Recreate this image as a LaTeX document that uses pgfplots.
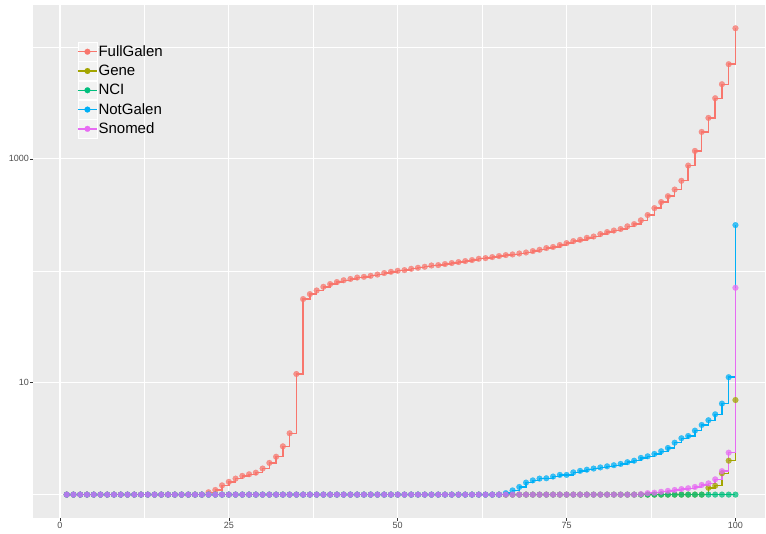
\documentclass[border=0pt]{standalone}
\usepackage{pgfplots}
\pgfplotsset{compat=1.18}
\usepackage{pgfplotstable}
\usepackage{fontspec}
\setmainfont{Liberation Sans}
\definecolor{cFG}{HTML}{F8766D}
\definecolor{cGene}{HTML}{A3A500}
\definecolor{cNCI}{HTML}{00BF7D}
\definecolor{cNG}{HTML}{00B0F6}
\definecolor{cSN}{HTML}{E76BF3}
\definecolor{panel}{HTML}{EBEBEB}
\definecolor{tickgrey}{HTML}{4D4D4D}
\definecolor{tickmark}{HTML}{333333}

\pgfplotstableread{
y
1
1
1
1
1
1
1
1
1
1
1
1
1
1
1
1
1
1
1
1
1
1.05
1.10
1.21
1.30
1.39
1.47
1.52
1.57
1.71
1.92
2.18
2.70
3.53
11.96
55.9
61.9
66.7
71.9
76.1
79.3
82.3
84.5
87.0
88.3
90.2
92.5
95.4
97.9
100
101.4
104.2
106.4
108.6
111.5
112.4
114.8
117.2
119.6
122.1
124.6
128.0
129.8
132.5
135.3
138.1
139.9
142.7
145.7
149.9
154.1
159.6
163.2
169.8
176.7
184.1
189.1
197.1
202.4
212.8
221.7
229.0
236.2
249.6
261.2
282.4
315
363
411
464
532
637
871
1178
1741
2323
3484
4645
7016
14690
}\tFG

\pgfplotstableread{
y
1
1
1
1
1
1
1
1
1
1
1
1
1
1
1
1
1
1
1
1
1
1
1
1
1
1
1
1
1
1
1
1
1
1
1
1
1
1
1
1
1
1
1
1
1
1
1
1
1
1
1
1
1
1
1
1
1
1
1
1
1
1
1
1
1
1
1
1
1
1
1
1
1
1
1
1
1
1
1
1
1
1
1
1
1
1
1
1
1
1
1
1
1
1
1
1.15
1.20
1.55
2.01
7.0
}\tGene

\pgfplotstableread{
y
1
1
1
1
1
1
1
1
1
1
1
1
1
1
1
1
1
1
1
1
1
1
1
1
1
1
1
1
1
1
1
1
1
1
1
1
1
1
1
1
1
1
1
1
1
1
1
1
1
1
1
1
1
1
1
1
1
1
1
1
1
1
1
1
1
1
1
1
1
1
1
1
1
1
1
1
1
1
1
1
1
1
1
1
1
1
1
1
1
1
1
1
1
1
1
1
1
1
1
1
}\tNCI

\pgfplotstableread{
y
1
1
1
1
1
1
1
1
1
1
1
1
1
1
1
1
1
1
1
1
1
1
1
1
1
1
1
1
1
1
1
1
1
1
1
1
1
1
1
1
1
1
1
1
1
1
1
1
1
1
1
1
1
1
1
1
1
1
1
1
1
1
1
1
1
1.03
1.09
1.17
1.28
1.34
1.39
1.40
1.45
1.50
1.50
1.58
1.63
1.67
1.71
1.75
1.79
1.83
1.88
1.95
2.01
2.13
2.20
2.31
2.44
2.61
2.91
3.19
3.34
3.73
4.19
4.62
5.22
6.50
11.2
256
}\tNG

\pgfplotstableread{
y
1
1
1
1
1
1
1
1
1
1
1
1
1
1
1
1
1
1
1
1
1
1
1
1
1
1
1
1
1
1
1
1
1
1
1
1
1
1
1
1
1
1
1
1
1
1
1
1
1
1
1
1
1
1
1
1
1
1
1
1
1
1
1
1
1
1
1
1
1
1
1
1
1
1
1
1
1
1
1
1
1
1
1
1
1
1.01
1.03
1.04
1.06
1.08
1.10
1.12
1.14
1.17
1.22
1.26
1.37
1.62
2.37
70.5
}\tSN

\pgfplotsset{
  lin/.style={color=#1, draw=#1, const plot, no markers, line width=1.4pt},
  pts/.style={color=#1, only marks, mark=*, mark size=2.9pt, mark options={solid, draw=#1, fill=#1, line width=0.2pt}, opacity=0.75},
  leg/.style={color=#1, draw=#1, line width=1.4pt, mark=*, mark size=2.9pt, mark options={solid, draw=#1, fill=#1, line width=0.2pt}},
}

\begin{document}
\begin{tikzpicture}
\begin{axis}[
  scale only axis,
  width=732.7pt, height=513.3pt,
  ymode=log,
  xmin=-3.95, xmax=104.44,
  ymin=0.619, ymax=23714,
  cycle list={{solid}},
  axis background/.style={fill=panel},
  axis line style={draw=none},
  xtick={0,25,50,75,100},
  xticklabels={0,25,50,75,100},
  minor xtick={12.5,37.5,62.5,87.5},
  ytick={10,1000},
  yticklabels={10,1000},
  minor ytick={1,100,10000},
  grid=both,
  major grid style={white, line width=1.1pt},
  minor grid style={white, line width=0.55pt},
  tick pos=left,
  tick align=outside,
  major tick length=2.8pt,
  minor tick length=0pt,
  tick style={color=tickmark, line width=0.5pt},
  ticklabel style={font=\fontsize{9}{10}\selectfont, text=tickgrey},
  xticklabel style={inner sep=1.5pt},
  yticklabel style={inner sep=1.5pt},
  legend cell align=left,
  legend style={at={(rel axis cs:0.0555,0.932)}, anchor=north west,
    draw=none, fill=none, font=\fontsize{15}{17}\selectfont,
    row sep=0pt, column sep=0pt,
    nodes={inner sep=0pt, inner xsep=0.8pt}},
  legend image code/.code={
    \fill[black!5, draw=white, line width=0.5pt] (0pt,-9.4pt) rectangle (19.3pt,9.4pt);
    \draw[mark repeat=2, mark phase=2, #1] plot coordinates {(0pt,0pt) (9.65pt,0pt) (19.3pt,0pt)};
  },
]
\addplot[lin=cFG, forget plot] table[x expr=\coordindex+1, y=y] {\tFG};
\addplot[lin=cGene, forget plot] table[x expr=\coordindex+1, y=y] {\tGene};
\addplot[lin=cNCI, forget plot] table[x expr=\coordindex+1, y=y] {\tNCI};
\addplot[lin=cNG, forget plot] table[x expr=\coordindex+1, y=y] {\tNG};
\addplot[lin=cSN, forget plot] table[x expr=\coordindex+1, y=y] {\tSN};
\addplot[pts=cFG, forget plot] table[x expr=\coordindex+1, y=y] {\tFG};
\addplot[pts=cGene, forget plot] table[x expr=\coordindex+1, y=y] {\tGene};
\addplot[pts=cNCI, forget plot] table[x expr=\coordindex+1, y=y] {\tNCI};
\addplot[pts=cNG, forget plot] table[x expr=\coordindex+1, y=y] {\tNG};
\addplot[pts=cSN, forget plot] table[x expr=\coordindex+1, y=y] {\tSN};
\addlegendimage{leg=cFG}\addlegendentry{FullGalen}
\addlegendimage{leg=cGene}\addlegendentry{Gene}
\addlegendimage{leg=cNCI}\addlegendentry{NCI}
\addlegendimage{leg=cNG}\addlegendentry{NotGalen}
\addlegendimage{leg=cSN}\addlegendentry{Snomed}
\end{axis}
\path (current axis.south west) ++(-33.3pt,-15.7pt) coordinate (bbA);
\path (current axis.north east) ++(0pt,5pt) coordinate (bbB);
\path (bbA) rectangle (bbB);
\end{tikzpicture}
\end{document}
